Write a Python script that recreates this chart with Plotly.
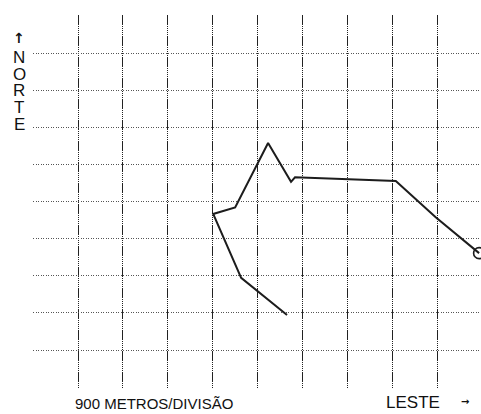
import plotly.graph_objects as go

# Track positions in metres (east, north), grid = 900 m per division
east_m = [8040, 7170, 6370, 4350, 4270, 3810, 3150, 2710, 3270, 4190]
north_m = [2350, 3220, 4100, 4190, 4080, 5020, 3460, 3300, 1750, 850]
grid_step = 900
grid_x = [grid_step * i for i in range(9)]
grid_y = [grid_step * i for i in range(9)]
north_letters = ["N", "O", "R", "T", "E"]
scale_label = "900 METROS/DIVISÃO"
east_label = "LESTE"

W, H = 481, 414

fig = go.Figure()
fig.add_trace(go.Scatter(
    x=east_m, y=north_m, mode="lines",
    line=dict(color="#1c1c1c", width=2), showlegend=False, hoverinfo="skip"))
fig.add_trace(go.Scatter(
    x=east_m[:1], y=north_m[:1], mode="markers",
    marker=dict(symbol="circle-open", size=11, color="#1c1c1c", line=dict(width=1.6)),
    showlegend=False, hoverinfo="skip"))

def px(x):
    return x / W

def py(y):
    return 1 - y / H

ann = []
font = "Liberation Sans, Arial, sans-serif"
arrow_font = "DejaVu Sans"
ann.append(dict(text="<b>↑</b>", x=px(19), y=py(38), font=dict(size=14, color="#111", family=arrow_font)))
for i, ch in enumerate(north_letters):
    ann.append(dict(text=ch, x=px(19), y=py(58 + i * 16.5), font=dict(size=17, color="#111", family=font)))
ann.append(dict(text=scale_label, x=px(153.5), y=py(403.5), font=dict(size=15, color="#111", family=font)))
ann.append(dict(text=east_label, x=px(412.5), y=py(402), font=dict(size=17, color="#111", family=font)))
ann.append(dict(text="<b>→</b>", x=px(465), y=py(401), font=dict(size=10, color="#111", family=arrow_font)))
for a in ann:
    a.update(xref="paper", yref="paper", showarrow=False, xanchor="center", yanchor="middle")

fig.update_layout(
    width=W, height=H, margin=dict(l=0, r=0, t=0, b=0),
    paper_bgcolor="white", plot_bgcolor="white",
    annotations=ann,
    xaxis=dict(domain=[33 / W, 1], range=[-902, 8078], tickvals=grid_x,
               showticklabels=False, ticks="", zeroline=False, showline=False,
               showgrid=True, gridcolor="#222222", gridwidth=1.4, griddash="1.5px,0.6px",
               fixedrange=True),
    yaxis=dict(domain=[(H - 388) / H, (H - 15) / H], range=[-922, 8127], tickvals=grid_y,
               showticklabels=False, ticks="", zeroline=False, showline=False,
               showgrid=True, gridcolor="#555555", gridwidth=1.2, griddash="1px,1.5px",
               fixedrange=True),
)

fig.write_html("out.html", config={"displayModeBar": False},
               post_script="document.body.style.margin='0px';document.body.style.overflow='hidden';")
